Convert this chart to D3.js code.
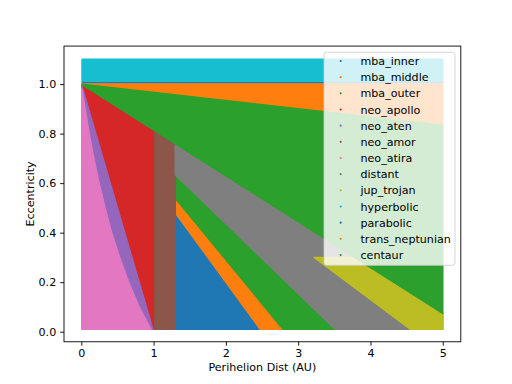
<!DOCTYPE html>
<html>
<head>
<meta charset="utf-8">
<script src="https://cdn.jsdelivr.net/npm/d3@7"></script>
<style>
  body { margin: 0; background: #fff; }
  svg { font-family: "DejaVu Sans", sans-serif; }
</style>
</head>
<body>
<div id="scatter"></div>
<script>
// Orbit classes, in the order they were plotted
var classNames = ["mba_inner", "mba_middle", "mba_outer", "neo_apollo", "neo_aten",
    "neo_amor", "neo_atira", "distant", "jup_trojan", "hyperbolic", "parabolic",
    "trans_neptunian", "centaur"];

var classColors = ["#1f77b4", "#ff7f0e", "#2ca02c", "#d62728", "#9467bd", "#8c564b",
    "#e377c2", "#7f7f7f", "#bcbd22", "#17becf", "#1f77b4", "#ff7f0e", "#2ca02c"];

// Outline of each class region as [perihelion q, eccentricity e]
var mbaInner = [[1.3, 0.01], [2.475, 0.01], [1.3, 0.48]];
var mbaMiddle = [[2.475, 0.01], [2.79, 0.01], [1.3, 0.539], [1.3, 0.48]];
var mbaOuter = [[2.79, 0.01], [3.51, 0.01], [1.3, 0.634], [1.3, 0.539]];
var neoApollo = [[0.01, 0.99], [0.99, 0.01], [1.017, 0.01], [1.017, 0.812], [0.01, 0.998]];
var neoAten = [[0.01, 0.01], [0.99, 0.01], [0.01, 0.99]];
var neoAmor = [[1.017, 0.01], [1.3, 0.01], [1.3, 0.759], [1.017, 0.812]];
var neoAtira = [[0.01, 0.01], [0.963, 0.01], [0.80, 0.1], [0.655, 0.2], [0.53, 0.3],
    [0.42, 0.4], [0.328, 0.5], [0.246, 0.6], [0.173, 0.7], [0.109, 0.8],
    [0.052, 0.9], [0.01, 0.98]];
var distant = [[3.51, 0.01], [5.0, 0.01], [5.0, 0.074], [1.3, 0.759], [1.3, 0.634]];
var jupTrojan = [[4.55, 0.01], [5.0, 0.01], [5.0, 0.074], [3.78, 0.3], [3.22, 0.3]];
var hyperbolic = [[0.01, 1.005], [5.0, 1.005], [5.0, 1.1], [0.01, 1.1]];
var parabolic = [[0.01, 1.005], [5.0, 1.005]];
var transNeptunian = [[0.01, 0.9997], [5.0, 0.834], [5.0, 1.0], [0.01, 1.0]];
var centaur = [[0.01, 0.998], [5.0, 0.074], [5.0, 0.834], [0.01, 0.9997]];

var regions = [mbaInner, mbaMiddle, mbaOuter, neoApollo, neoAten, neoAmor, neoAtira,
    distant, jupTrojan, hyperbolic, parabolic, transNeptunian, centaur];

var xTicks = [0, 1, 2, 3, 4, 5];
var yTicks = [0.0, 0.2, 0.4, 0.6, 0.8, 1.0];

// SVG area, same as a 6.4x4.8in figure shrunk to 512x384
var svgWidth = 512;
var svgHeight = 384;

var margin = {
    top: 46.08,
    right: 51.2,
    bottom: 42.24,
    left: 64
};

var width = svgWidth - margin.left - margin.right;
var height = svgHeight - margin.top - margin.bottom;

var svg = d3.select("#scatter")
    .append("svg")
    .attr("width", svgWidth)
    .attr("height", svgHeight);

var chartGroup = svg.append("g")
    .attr("transform", `translate(${margin.left}, ${margin.top})`);

var xScale = d3.scaleLinear()
    .domain([-0.2395, 5.2495])
    .range([0, width]);

var yScale = d3.scaleLinear()
    .domain([-0.0406, 1.1535])
    .range([height, 0]);

var line = d3.line()
    .x(d => xScale(d[0]))
    .y(d => yScale(d[1]));

// the filled regions (dense scatter in the original)
chartGroup.selectAll("path.region")
    .data(regions)
    .enter()
    .append("path")
    .attr("class", "region")
    .attr("d", (d, i) => classNames[i] === "parabolic" ? line(d) : line(d) + "Z")
    .attr("fill", (d, i) => classNames[i] === "parabolic" ? "none" : classColors[i])
    .attr("stroke", (d, i) => classColors[i])
    .attr("stroke-width", (d, i) => classNames[i] === "parabolic" ? 1.6 : 1.5)
    .attr("stroke-linejoin", "round");

// axes
var bottomAxis = d3.axisBottom(xScale)
    .tickValues(xTicks)
    .tickFormat(d3.format("d"))
    .tickSize(3.9)
    .tickPadding(3.9);

var leftAxis = d3.axisLeft(yScale)
    .tickValues(yTicks)
    .tickFormat(d3.format(".1f"))
    .tickSize(3.9)
    .tickPadding(3.9);

var xAxis = chartGroup.append("g")
    .attr("transform", `translate(0, ${height})`)
    .call(bottomAxis);

var yAxis = chartGroup.append("g")
    .call(leftAxis);

[xAxis, yAxis].forEach(function(ax) {
    ax.select(".domain").remove();
    ax.selectAll("line").attr("stroke", "#000").attr("stroke-width", 0.9);
    ax.selectAll("text")
        .attr("fill", "#000")
        .style("font-size", "11.1px")
        .style("font-family", "'DejaVu Sans', sans-serif");
});

// frame
chartGroup.append("rect")
    .attr("x", 0)
    .attr("y", 0)
    .attr("width", width)
    .attr("height", height)
    .attr("fill", "none")
    .attr("stroke", "#000")
    .attr("stroke-width", 0.9);

// axis labels
chartGroup.append("text")
    .attr("x", width / 2)
    .attr("y", height + 29.5)
    .attr("text-anchor", "middle")
    .style("font-size", "11.1px")
    .text("Perihelion Dist (AU)");

chartGroup.append("text")
    .attr("transform", "rotate(-90)")
    .attr("x", 0 - height / 2)
    .attr("y", 0 - 30)
    .attr("text-anchor", "middle")
    .style("font-size", "11.1px")
    .text("Eccentricity");

// legend
var legendGroup = svg.append("g")
    .attr("transform", "translate(324, 52.3)");

legendGroup.append("rect")
    .attr("width", 131)
    .attr("height", 213)
    .attr("rx", 2.5)
    .attr("fill", "#fff")
    .attr("fill-opacity", 0.8)
    .attr("stroke", "#cccccc")
    .attr("stroke-width", 0.8);

var legendRows = legendGroup.selectAll("g.row")
    .data(classNames)
    .enter()
    .append("g")
    .attr("class", "row")
    .attr("transform", (d, i) => `translate(0, ${8.7 + i * 16.17})`);

legendRows.append("circle")
    .attr("cx", 16.7)
    .attr("cy", 0)
    .attr("r", 1.1)
    .attr("fill", (d, i) => classColors[i]);

legendRows.append("text")
    .attr("x", 36.5)
    .attr("y", 0)
    .attr("dy", "0.36em")
    .style("font-size", "11.1px")
    .attr("fill", "#000")
    .text(d => d);
</script>
</body>
</html>
